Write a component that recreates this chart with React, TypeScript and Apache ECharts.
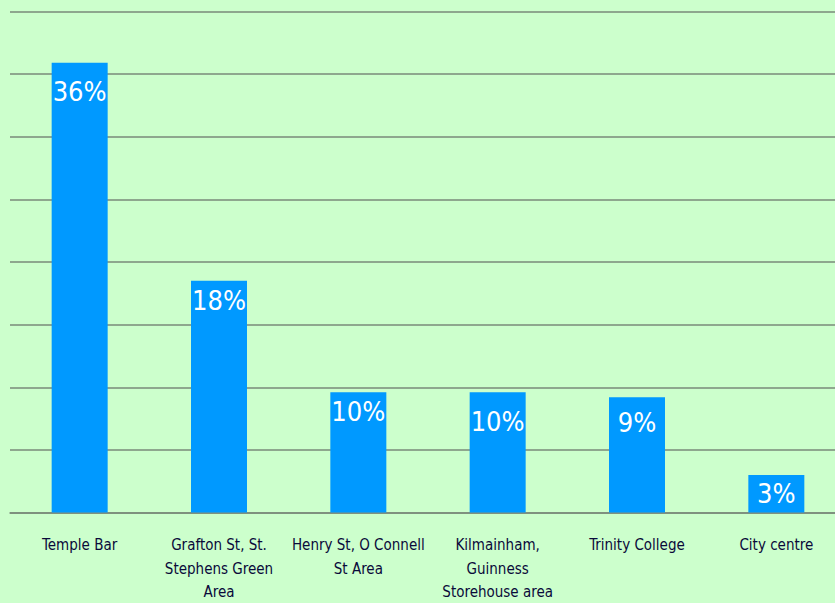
import React, { useEffect, useRef } from "react";
import * as echarts from "echarts";

const categories = [
  "Temple Bar",
  "Grafton St, St.\nStephens Green\nArea",
  "Henry St, O Connell\nSt Area",
  "Kilmainham,\nGuinness\nStorehouse area",
  "Trinity College",
  "City centre",
];
const shares = [35.9, 18.5, 9.6, 9.6, 9.2, 3.0];
const labelsShown = ["36%", "18%", "10%", "10%", "9%", "3%"];

const FONT = "'DejaVu Sans Condensed', 'Liberation Sans Narrow', 'Arial Narrow', sans-serif";
const labelGap = [15, 6, 6, 16, 12, 0];

export default function App() {
  const ref = useRef<HTMLDivElement>(null);
  useEffect(() => {
    document.body.style.margin = "0";
    const chart = echarts.init(ref.current!, null, { renderer: "svg" });
    chart.setOption({
      animation: false,
      backgroundColor: "#ccffcc",
      grid: {
        left: 10,
        right: -11,
        top: 11.5,
        bottom: 90.5,
        containLabel: false,
        outerBoundsMode: "none",
      },
      xAxis: {
        type: "category",
        data: categories,
        axisLine: { show: true, lineStyle: { color: "#7a8a7a", width: 1.5 } },
        axisTick: { show: false },
        axisLabel: {
          interval: 0,
          color: "#0a0a3a",
          fontFamily: FONT,
          fontSize: 15,
          lineHeight: 23.5,
          margin: 21,
        },
      },
      yAxis: {
        type: "value",
        min: 0,
        max: 40,
        interval: 5,
        axisLabel: { show: false },
        axisLine: { show: false },
        axisTick: { show: false },
        splitLine: { show: true, lineStyle: { color: "#7a8a7a", width: 1.5 } },
      },
      series: [
        {
          type: "bar",
          data: shares.map((v, i) => ({
            value: v,
            label: {
              position: i === 5 ? "inside" : "insideTop",
              distance: labelGap[i],
            },
          })),
          barWidth: 56,
          itemStyle: { color: "#0099ff" },
          label: {
            show: true,
            position: "insideTop",
            color: "#ffffff",
            fontFamily: FONT,
            fontSize: 27,
            formatter: (p: any) => labelsShown[p.dataIndex],
          },
        },
      ],
    });
    return () => chart.dispose();
  }, []);
  return <div ref={ref} style={{ width: 835, height: 603 }} />;
}
